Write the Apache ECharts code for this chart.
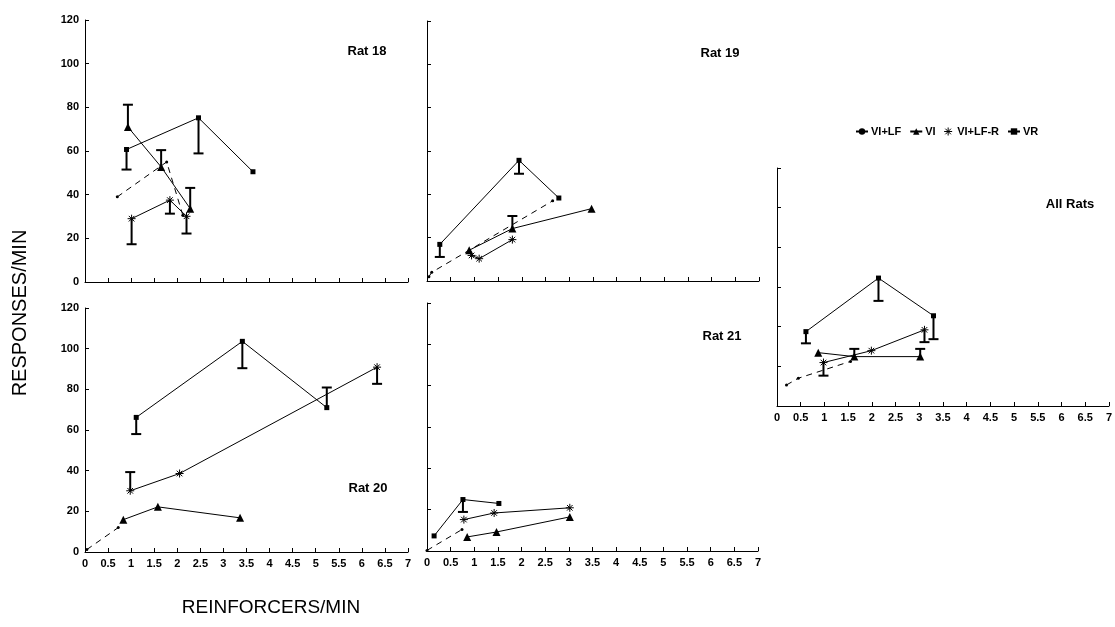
<!DOCTYPE html>
<html>
<head>
<meta charset="utf-8">
<script src="https://cdn.jsdelivr.net/npm/echarts@6/dist/echarts.min.js"></script>
<style>
  html, body { margin: 0; padding: 0; background: #fff; }
  #chart { width: 1115px; height: 627px; }
</style>
</head>
<body>
<div id="chart"></div>
<script>
// x = reinforcers/min, y = responses/min ; err rows are [x, y, end of bar]
const rat18VILF = [[0.7, 39], [1.77, 55], [2.12, 30.6]];
const rat18VI = [[0.93, 71], [1.65, 52.7], [2.28, 33.6]];
const rat18VILFR = [[1.01, 29], [1.84, 37.5], [2.2, 30.1]];
const rat18VR = [[0.9, 60.7], [2.46, 75.2], [3.64, 50.5]];
const rat18Err = [[0.93, 71, 81.2], [1.65, 52.7, 60.4], [2.28, 33.6, 43.1], [1.01, 29, 17.3],
  [1.84, 37.5, 31.3], [2.2, 30.1, 22.2], [0.9, 60.7, 51.5], [2.46, 75.2, 58.9]];

const rat19VILF = [[0.04, 2], [0.1, 4], [2.65, 37]];
const rat19VI = [[0.89, 14.2], [1.8, 24.2], [3.47, 33.4]];
const rat19VILFR = [[0.94, 11.8], [1.1, 10.3], [1.8, 19.1]];
const rat19VR = [[0.27, 16.9], [1.94, 55.7], [2.78, 38.3]];
const rat19Err = [[0.27, 16.9, 11.1], [1.94, 55.7, 49.5], [1.8, 24.2, 30]];

const rat20VILF = [[0.04, 1.2], [0.72, 12]];
const rat20VI = [[0.83, 15.9], [1.58, 22.2], [3.36, 16.8]];
const rat20VILFR = [[0.98, 30.1], [2.05, 38.6], [6.33, 90.9]];
const rat20VR = [[1.11, 66.2], [3.41, 103.6], [5.24, 71]];
const rat20Err = [[1.11, 66.2, 58], [3.41, 103.6, 90.4], [5.24, 71, 80.9], [0.98, 30.1, 39.3], [6.33, 90.9, 82.7]];

const rat21VILF = [[0, 0.3], [0.74, 10.4]];
const rat21VI = [[0.85, 6.8], [1.47, 9.2], [3.02, 16.5]];
const rat21VILFR = [[0.78, 15.2], [1.42, 18.4], [3.02, 20.9]];
const rat21VR = [[0.15, 7.3], [0.76, 24.9], [1.52, 23]];
const rat21Err = [[0.76, 24.9, 18.9]];

const allVILF = [[0.2, 10.6], [0.45, 14], [1.55, 22.5]];
const allVI = [[0.87, 26.9], [1.63, 24.9], [3.02, 24.9]];
const allVILFR = [[0.98, 21.9], [1.99, 27.9], [3.11, 38.4]];
const allVR = [[0.61, 37.5], [2.14, 64.5], [3.3, 45.5]];
const allErr = [[0.61, 37.5, 31.6], [2.14, 64.5, 53], [3.3, 45.5, 33.7], [0.98, 21.9, 15.3],
  [3.11, 38.4, 32.2], [1.63, 24.9, 28.8], [3.02, 24.9, 28.8]];

const conditions = ['VI+LF', 'VI', 'VI+LF-R', 'VR'];
const panelNames = ['Rat 18', 'Rat 19', 'Rat 20', 'Rat 21', 'All Rats'];

const font = 'Liberation Sans, Arial, sans-serif';
const asterisk = 'path://M5,0L5,10M0,5L10,5M1.5,1.5L8.5,8.5M8.5,1.5L1.5,8.5';

const panels = [
  { lines: [rat18VILF, rat18VI, rat18VILFR, rat18VR], err: rat18Err },
  { lines: [rat19VILF, rat19VI, rat19VILFR, rat19VR], err: rat19Err },
  { lines: [rat20VILF, rat20VI, rat20VILFR, rat20VR], err: rat20Err },
  { lines: [rat21VILF, rat21VI, rat21VILFR, rat21VR], err: rat21Err },
  { lines: [allVILF, allVI, allVILFR, allVR], err: allErr }
];

const grids = [
  { left: 85, top: 20, width: 323, height: 262 },
  { left: 427, top: 21, width: 332, height: 260 },
  { left: 85, top: 308, width: 323, height: 244 },
  { left: 427, top: 303, width: 331, height: 248 },
  { left: 777, top: 168, width: 335, height: 238 }
];
const showX = [false, false, true, true, true];
const showY = [true, false, true, false, false];
const labelPos = [[367, 51], [720, 53], [368, 488], [722, 336], [1070, 204]];

const axisText = { fontSize: 11, fontWeight: 'bold', color: '#000', fontFamily: font };

const symbols = [
  { symbol: 'circle', symbolSize: 3, lineType: [6, 5] },
  { symbol: 'triangle', symbolSize: 8, lineType: 'solid' },
  { symbol: asterisk, symbolSize: 8, lineType: 'solid' },
  { symbol: 'rect', symbolSize: 5, lineType: 'solid' }
];

function renderErr(params, api) {
  const x = api.value(0);
  const p1 = api.coord([x, api.value(1)]);
  const p2 = api.coord([x, api.value(2)]);
  const st = { stroke: '#000', lineWidth: 2 };
  return {
    type: 'group',
    children: [
      { type: 'line', shape: { x1: p1[0], y1: p1[1], x2: p2[0], y2: p2[1] }, style: st },
      { type: 'line', shape: { x1: p2[0] - 5, y1: p2[1], x2: p2[0] + 5, y2: p2[1] }, style: st }
    ]
  };
}

const series = [];
panels.forEach((p, i) => {
  p.lines.forEach((d, k) => {
    const s = symbols[k];
    series.push({
      name: conditions[k],
      type: 'line',
      xAxisIndex: i,
      yAxisIndex: i,
      data: d,
      symbol: s.symbol,
      symbolSize: s.symbolSize,
      legendIcon: s.symbol,
      showSymbol: true,
      itemStyle: k === 2
        ? { color: '#fff', borderColor: '#000', borderWidth: 1 }
        : { color: '#000' },
      lineStyle: { color: '#000', width: 1, type: s.lineType },
      z: 3
    });
  });
  series.push({
    name: 'err' + i,
    type: 'custom',
    xAxisIndex: i,
    yAxisIndex: i,
    renderItem: renderErr,
    encode: { x: 0, y: [1, 2] },
    data: p.err,
    z: 2
  });
});

const chart = echarts.init(document.getElementById('chart'));
chart.setOption({
  animation: false,
  backgroundColor: '#fff',
  grid: grids,
  xAxis: grids.map((g, i) => ({
    type: 'value',
    gridIndex: i,
    min: 0,
    max: 7,
    interval: 0.5,
    axisLine: { lineStyle: { color: '#000', width: 1 } },
    axisTick: { inside: true, length: 4, lineStyle: { color: '#000' } },
    axisLabel: Object.assign({ show: showX[i], margin: 6 }, axisText),
    splitLine: { show: false }
  })),
  yAxis: grids.map((g, i) => ({
    type: 'value',
    gridIndex: i,
    min: 0,
    max: 120,
    interval: 20,
    axisLine: { show: true, lineStyle: { color: '#000', width: 1 } },
    axisTick: { show: true, inside: true, length: 4, lineStyle: { color: '#000' } },
    axisLabel: Object.assign({ show: showY[i], margin: 6 }, axisText),
    splitLine: { show: false }
  })),
  legend: {
    data: [
      'VI+LF',
      'VI',
      { name: 'VI+LF-R', icon: asterisk, itemStyle: { color: '#fff', borderColor: '#000', borderWidth: 1 } },
      'VR'
    ],
    left: 850,
    top: 121,
    itemWidth: 12,
    itemHeight: 8,
    itemGap: 8,
    lineStyle: { type: 'solid' },
    textStyle: { fontSize: 11, fontWeight: 'bold', color: '#000', fontFamily: font, padding: [0, 0, 0, -2] }
  },
  graphic: panelNames.map((t, i) => ({
    type: 'text',
    x: labelPos[i][0],
    y: labelPos[i][1],
    style: { text: t, font: 'bold 13px ' + font, fill: '#000', align: 'center', verticalAlign: 'middle' }
  })).concat([
    {
      type: 'text',
      x: 20,
      y: 313,
      rotation: Math.PI / 2,
      style: { text: 'RESPONSES/MIN', font: '20px ' + font, fill: '#000', align: 'center', verticalAlign: 'middle' }
    },
    {
      type: 'text',
      x: 271,
      y: 608,
      style: { text: 'REINFORCERS/MIN', font: '19px ' + font, fill: '#000', align: 'center', verticalAlign: 'middle' }
    }
  ]),
  series: series
});
</script>
</body>
</html>
